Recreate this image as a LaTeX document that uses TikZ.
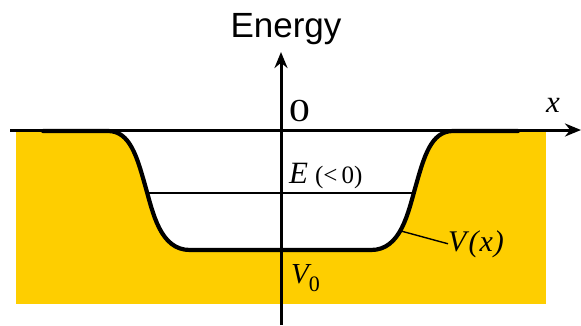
\documentclass[tikz,border=0pt]{standalone}
\usepackage{fontspec}
\usepackage{graphicx}
\setmainfont{Liberation Serif}
\newfontfamily\helv{Liberation Sans}
\usetikzlibrary{arrows.meta}
\definecolor{wellyellow}{RGB}{254,206,0}
\begin{document}
\begin{tikzpicture}[x=1pt,y=-1pt,
  axisline/.style={line width=3pt,-{Stealth[length=16pt,width=13pt]}},
  potline/.style={line width=4.2pt,line join=round,line cap=round},
  levelline/.style={line width=2.8pt},
  lbl/.style={inner sep=0pt,anchor=base west},
  ]
\useasboundingbox (0,0) rectangle (581,325);
% shaded region
\fill[wellyellow] (16,130) rectangle (546,304);
% inside of the well
\fill[white] (108,131) .. controls (130,131) and (137,157) .. (145,185)
  .. controls (153,213) and (160,250) .. (190,250) -- (371,250)
  .. controls (401,250) and (408,213) .. (416,185)
  .. controls (424,157) and (431,131) .. (453,131) -- cycle;
% energy level
\coordinate (eL) at (147.5,193);
\coordinate (eR) at (413.5,193);
\draw[levelline] (eL) -- (eR);
% axes
\coordinate (xs) at (10,130);
\coordinate (xe) at (581,130);
\coordinate (ys) at (281,325);
\coordinate (ye) at (281,52);
\draw[axisline] (xs) -- (xe);
\draw[axisline] (ys) -- (ye);
% potential
\draw[potline] (43,131) -- (108,131) .. controls (130,131) and (137,157) .. (145,185)
  .. controls (153,213) and (160,250) .. (190,250) -- (371,250)
  .. controls (401,250) and (408,213) .. (416,185)
  .. controls (424,157) and (431,131) .. (453,131) -- (518,131);
% labels
\node[inner sep=0pt,anchor=base] (energy) at (286,37) {\helv\fontsize{35}{40}\selectfont Energy};
\node[lbl] (zero) at (289,121) {\fontsize{32}{36}\selectfont\scalebox{1.3}[1]{0}};
\node[lbl] (xlab) at (546,112) {\fontsize{31}{36}\selectfont\itshape x};
\node[lbl] (elab) at (289,183) {\fontsize{31}{36}\selectfont\itshape E\upshape\hspace{7pt}\fontsize{25}{30}\selectfont(<\,0)};
\node[lbl] (vx) at (448,251) {\fontsize{30}{36}\selectfont\itshape V\hspace{2pt}(\hspace{1pt}x\hspace{1pt})};
\node[lbl] (v0) at (291,283) {\fontsize{29}{36}\selectfont\itshape V\upshape\raisebox{-8pt}{\fontsize{22}{26}\selectfont 0}};
% leader line
\coordinate (lead) at (401,231);
\draw[line width=1.4pt] (lead) -- (vx.west);
\end{tikzpicture}
\end{document}
